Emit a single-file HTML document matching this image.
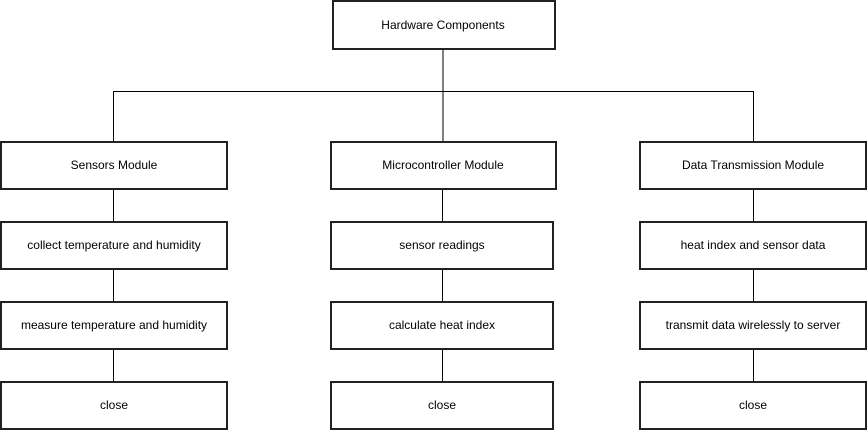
<!DOCTYPE html>
<html><head><style>body{margin:0;background:#fff}svg{display:block}text{font-family:"Liberation Sans",Arial,sans-serif;font-size:12px;fill:#000}</style></head>
<body>
<svg width="868" height="430" xmlns="http://www.w3.org/2000/svg">
<g stroke="#000" stroke-width="1" fill="none">
<line x1="443" y1="49" x2="443" y2="141"/>
<line x1="113" y1="91.5" x2="753" y2="91.5"/>
<line x1="113.5" y1="91" x2="113.5" y2="141"/>
<line x1="753.5" y1="91" x2="753.5" y2="141"/>
<line x1="113.5" y1="189" x2="113.5" y2="381"/>
<line x1="442.5" y1="189" x2="442.5" y2="381"/>
<line x1="753.5" y1="189" x2="753.5" y2="381"/>
</g>
<g stroke="#222" stroke-width="2" fill="#fff">
<rect x="333" y="1" width="222" height="48"/>
<rect x="1" y="142" width="226" height="47"/>
<rect x="331" y="142" width="225" height="47"/>
<rect x="640" y="142" width="226" height="47"/>
<rect x="1" y="222" width="226" height="47"/>
<rect x="331" y="222" width="222" height="47"/>
<rect x="640" y="222" width="226" height="47"/>
<rect x="1" y="302" width="226" height="47"/>
<rect x="331" y="302" width="222" height="47"/>
<rect x="640" y="302" width="226" height="47"/>
<rect x="1" y="382" width="226" height="47"/>
<rect x="331" y="382" width="222" height="47"/>
<rect x="640" y="382" width="226" height="47"/>
</g>
<g text-anchor="middle">
<text x="443" y="29">Hardware Components</text>
<text x="114" y="169">Sensors Module</text>
<text x="443" y="169">Microcontroller Module</text>
<text x="753" y="169">Data Transmission Module</text>
<text x="114" y="249">collect temperature and humidity</text>
<text x="442" y="249">sensor readings</text>
<text x="753" y="249">heat index and sensor data</text>
<text x="114" y="329">measure temperature and humidity</text>
<text x="442" y="329">calculate heat index</text>
<text x="753" y="329">transmit data wirelessly to server</text>
<text x="114" y="409">close</text>
<text x="442" y="409">close</text>
<text x="753" y="409">close</text>
</g>
</svg>
</body></html>
